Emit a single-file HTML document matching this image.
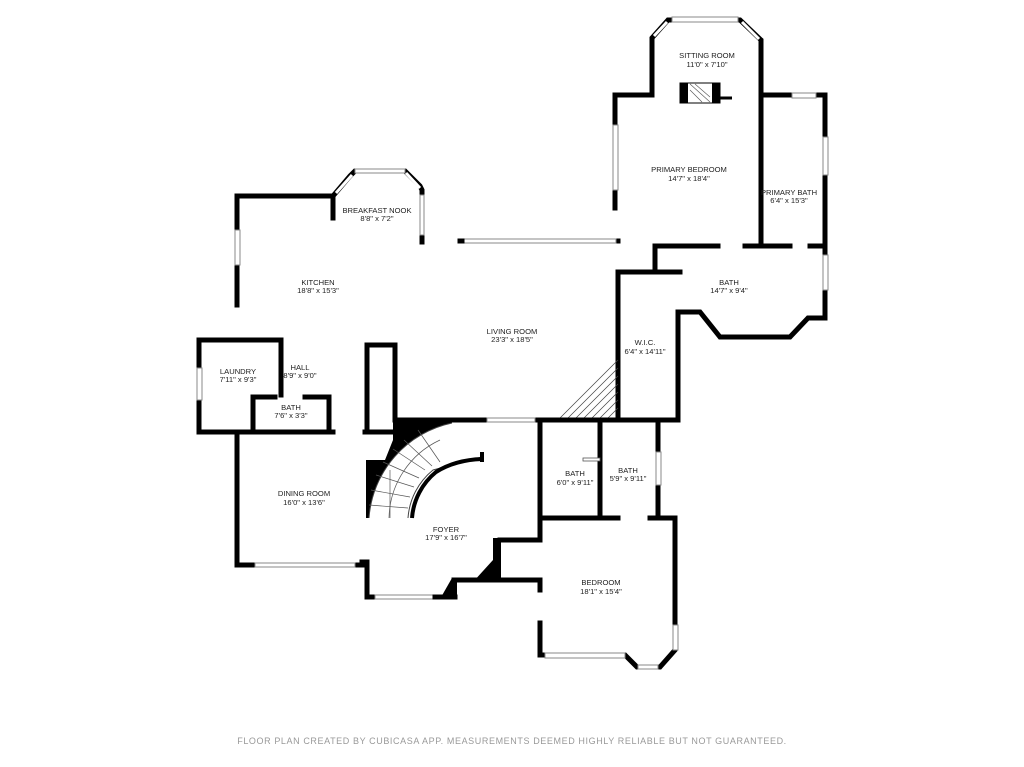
<!DOCTYPE html>
<html><head><meta charset="utf-8"><style>
html,body{margin:0;padding:0;background:#fff;}
svg{display:block;}
text{font-family:"Liberation Sans",sans-serif;font-size:7.6px;fill:#222;text-anchor:middle;}
.w{fill:none;stroke:#000;stroke-width:5;stroke-linejoin:miter;stroke-linecap:square;}
.win{fill:#fff;stroke:#888;stroke-width:1;}
</style></head><body>
<svg width="1024" height="767" viewBox="0 0 1024 767">
<rect width="1024" height="767" fill="#fff"/>
<!-- Sitting room -->
<polyline class="w" points="615,95 652,95 652,38 668,20 740,20 761,40 761,245"/>
<rect class="win" x="672" y="17" width="66" height="5"/>
<line x1="654" y1="36" x2="667" y2="22" stroke="#fff" stroke-width="3"/>
<line x1="742" y1="22" x2="759" y2="39" stroke="#fff" stroke-width="3"/>
<!-- fireplace -->
<rect x="680" y="83" width="40" height="20" fill="#fff" stroke="#000"/>
<rect x="680" y="83" width="8" height="20" fill="#000"/>
<rect x="712" y="83" width="8" height="20" fill="#000"/>
<line x1="690" y1="84" x2="710" y2="102" stroke="#555" stroke-width="0.6"/>
<line x1="695" y1="84" x2="710" y2="97" stroke="#555" stroke-width="0.6"/>
<line x1="690" y1="90" x2="702" y2="102" stroke="#555" stroke-width="0.6"/>
<line x1="720" y1="98" x2="732" y2="98" stroke="#000" stroke-width="3"/>
<!-- primary bedroom / bath -->
<polyline class="w" points="615,95 615,208"/>
<rect class="win" x="613" y="125" width="5" height="65"/>
<polyline class="w" points="761,95 825,95 825,318 808,318 790,337 720,337 700,312 678,312 678,420"/>
<rect class="win" x="792" y="93" width="24" height="5"/>
<rect class="win" x="823" y="137" width="5" height="38"/>
<rect class="win" x="823" y="255" width="5" height="35"/>
<polyline class="w" points="600,241 618,241"/>
<rect class="win" x="462" y="239" width="154" height="4"/>
<line class="w" x1="460" y1="241" x2="462" y2="241"/>
<polyline class="w" points="655,272 655,246 718,246"/>
<polyline class="w" points="745,246 790,246"/>
<polyline class="w" points="810,246 825,246"/>
<polyline class="w" points="618,272 680,272"/>
<polyline class="w" points="618,272 618,420"/>
<!-- stair hatch -->
<g stroke="#444" stroke-width="0.7">
<line x1="558" y1="420" x2="618" y2="360"/><line x1="566" y1="420" x2="618" y2="368"/>
<line x1="574" y1="420" x2="618" y2="376"/><line x1="582" y1="420" x2="618" y2="384"/>
<line x1="590" y1="420" x2="618" y2="392"/><line x1="598" y1="420" x2="618" y2="400"/>
<line x1="606" y1="420" x2="618" y2="408"/>
</g>
<polyline class="w" points="535,420 678,420"/>
<polyline class="w" points="395,420 487,420"/>
<rect class="win" x="487" y="418" width="48" height="4"/>
<!-- baths middle -->
<polyline class="w" points="540,420 540,540 500,540"/>
<polyline class="w" points="600,420 600,518"/>
<rect x="583" y="458" width="17" height="3" fill="#fff" stroke="#555" stroke-width="0.8"/>
<polyline class="w" points="658,420 658,515"/>
<rect class="win" x="656" y="452" width="5" height="33"/>
<polyline class="w" points="540,518 618,518"/>
<polyline class="w" points="650,518 675,518 675,650 660,667 637,667 625,655 540,655 540,623"/>
<rect class="win" x="545" y="653" width="80" height="5"/>
<rect class="win" x="673" y="625" width="5" height="25"/>
<rect class="win" x="638" y="665" width="20" height="4"/>
<!-- foyer lower -->
<rect x="493" y="538" width="8" height="44" fill="#000"/>
<polygon points="473,582 493,560 493,582" fill="#000"/>
<polyline class="w" points="454,580 540,580 540,590"/>
<polygon points="440,599 452,578 457,578 457,599" fill="#000"/>
<polyline class="w" points="362,562 367,562 367,597 375,597"/>
<rect class="win" x="375" y="595" width="60" height="4"/>
<polyline class="w" points="435,597 455,597"/>
<!-- curved stair -->
<path d="M393,418 L452,418 L452,423 A105,105 0 0 0 369,518 L366,518 L366,460 L385,460 L393,440 Z" fill="#000"/>
<path d="M369,518 A105,105 0 0 1 452,423" fill="none" stroke="#444" stroke-width="1"/>
<path d="M408,518 A68,68 0 0 1 433,470 L482,457" fill="none" stroke="#444" stroke-width="1"/>
<path d="M412,518 A66,66 0 0 1 436,472 Q455,460 482,459" fill="none" stroke="#000" stroke-width="4"/>
<line x1="482" y1="452" x2="482" y2="462" stroke="#000" stroke-width="4"/>
<g stroke="#555" stroke-width="0.7">
<line x1="369" y1="505" x2="408" y2="508"/><line x1="371" y1="490" x2="410" y2="497"/>
<line x1="376" y1="475" x2="414" y2="487"/><line x1="383" y1="462" x2="419" y2="478"/>
<line x1="393" y1="449" x2="425" y2="470"/><line x1="404" y1="440" x2="432" y2="466"/>
<line x1="418" y1="430" x2="440" y2="462"/>
<line x1="390" y1="518" x2="390" y2="470"/><path d="M389,518 A88,88 0 0 1 440,440" fill="none"/>
</g>
<!-- kitchen / nook -->
<polyline class="w" points="237,305 237,196 333,196 350,176 355,171 405,171 420,186 422,190 422,242"/>
<rect class="win" x="235" y="230" width="5" height="35"/>
<rect class="win" x="355" y="169" width="50" height="4"/>
<line x1="336" y1="193" x2="352" y2="175" stroke="#fff" stroke-width="3"/>
<line x1="406" y1="173" x2="420" y2="188" stroke="#fff" stroke-width="3"/>
<rect class="win" x="420" y="195" width="4" height="40"/>
<polyline class="w" points="333,196 333,218"/>
<!-- laundry / bath / hall -->
<polyline class="w" points="281,395 281,340 199,340 199,432 333,432"/>
<rect class="win" x="197" y="368" width="5" height="32"/>
<polyline class="w" points="253,432 253,397 275,397"/>
<polyline class="w" points="305,397 329,397 329,432"/>
<polyline class="w" points="365,432 393,432"/>
<polyline class="w" points="367,430 367,345 395,345 395,420"/>
<!-- dining -->
<polyline class="w" points="237,432 237,565 367,565"/>
<rect class="win" x="255" y="563" width="100" height="4"/>
<!-- labels -->
<text x="707" y="58">SITTING ROOM</text><text x="707" y="67">11'0" x 7'10"</text>
<text x="689" y="172">PRIMARY BEDROOM</text><text x="689" y="181">14'7" x 18'4"</text>
<text x="789" y="195">PRIMARY BATH</text><text x="789" y="203">6'4" x 15'3"</text>
<text x="377" y="213">BREAKFAST NOOK</text><text x="377" y="221">8'8" x 7'2"</text>
<text x="318" y="285">KITCHEN</text><text x="318" y="293">18'8" x 15'3"</text>
<text x="512" y="334">LIVING ROOM</text><text x="512" y="342">23'3" x 18'5"</text>
<text x="729" y="285">BATH</text><text x="729" y="293">14'7" x 9'4"</text>
<text x="645" y="345">W.I.C.</text><text x="645" y="354">6'4" x 14'11"</text>
<text x="238" y="374">LAUNDRY</text><text x="238" y="382">7'11" x 9'3"</text>
<text x="300" y="370">HALL</text><text x="300" y="378">8'9" x 9'0"</text>
<text x="291" y="410">BATH</text><text x="291" y="418">7'6" x 3'3"</text>
<text x="304" y="496">DINING ROOM</text><text x="304" y="505">16'0" x 13'6"</text>
<text x="446" y="532">FOYER</text><text x="446" y="540">17'9" x 16'7"</text>
<text x="575" y="476">BATH</text><text x="575" y="485">6'0" x 9'11"</text>
<text x="628" y="473">BATH</text><text x="628" y="481">5'9" x 9'11"</text>
<text x="601" y="585">BEDROOM</text><text x="601" y="594">18'1" x 15'4"</text>
<text x="512" y="744" style="font-size:9px;fill:#999;letter-spacing:0.6px">FLOOR PLAN CREATED BY CUBICASA APP. MEASUREMENTS DEEMED HIGHLY RELIABLE BUT NOT GUARANTEED.</text>
</svg>
</body></html>
